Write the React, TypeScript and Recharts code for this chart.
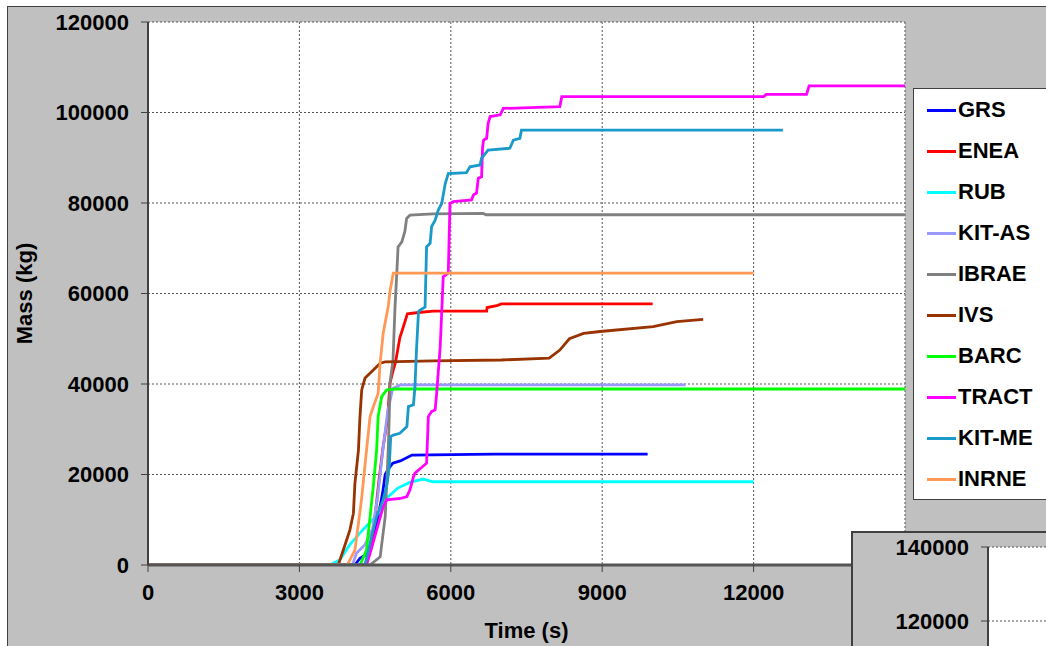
import React from 'react';
import { LineChart, Line, XAxis, YAxis, CartesianGrid } from 'recharts';

// Axis ticks
const timeTicks = [0, 3000, 6000, 9000, 12000, 15000];
const massTicks = [0, 20000, 40000, 60000, 80000, 100000, 120000];
const insetMassTicks = [120000, 140000];

// Series names and colours (legend order)
const seriesNames = ['GRS', 'ENEA', 'RUB', 'KIT-AS', 'IBRAE', 'IVS', 'BARC', 'TRACT', 'KIT-ME', 'INRNE'];
const seriesColors = ['#0000FF', '#FF0000', '#00FFFF', '#9999FF', '#808080', '#993300', '#00FF00', '#FF00FF', '#1A9AC9', '#FF9955'];

// Time (s) / mass (kg) samples per code
const grsTime = [0, 4100, 4200, 4350, 4450, 4550, 4650, 4700, 4750, 4850, 5000, 5230, 6850, 9900];
const grsMass = [0, 0, 1500, 2500, 5000, 10000, 16000, 20000, 21000, 22500, 23000, 24300, 24500, 24500];

const eneaTime = [0, 4300, 4400, 4500, 4570, 4650, 4750, 4795, 4860, 4900, 4930, 4990, 5050, 5140, 5360, 5650, 6710, 6720, 6910, 7000, 10000];
const eneaMass = [0, 0, 3300, 10600, 18100, 25400, 32700, 40200, 43100, 44600, 46400, 50200, 52300, 55500, 55800, 56100, 56100, 56900, 57300, 57700, 57700];

const rubTime = [0, 3600, 3800, 4000, 4250, 4450, 4650, 4750, 4950, 5200, 5450, 5650, 12000];
const rubMass = [0, 0, 1100, 4500, 7700, 10000, 12500, 15000, 17000, 18300, 19000, 18400, 18400];

const kitAsTime = [0, 4050, 4130, 4300, 4450, 4550, 4650, 4750, 4850, 5000, 10650];
const kitAsMass = [0, 0, 2600, 4500, 8000, 15000, 25000, 34000, 39000, 39800, 39800];

const ibraeTime = [0, 4400, 4600, 4700, 4730, 4760, 4780, 4795, 4855, 4895, 4930, 4955, 5030, 5090, 5125, 5190, 5650, 6640, 6700, 15000];
const ibraeMass = [0, 0, 1800, 10700, 18000, 25400, 32800, 40200, 45300, 57100, 64500, 70300, 71400, 73700, 76600, 77300, 77600, 77700, 77400, 77400];

const ivsTime = [0, 3770, 3870, 4000, 4070, 4100, 4170, 4200, 4235, 4300, 4430, 4600, 4700, 5650, 7000, 7950, 8160, 8350, 8630, 8960, 10010, 10480, 11000];
const ivsMass = [0, 0, 3300, 7700, 11400, 18000, 25400, 32800, 38700, 41300, 42700, 44600, 44900, 45100, 45300, 45700, 47500, 50000, 51200, 51600, 52700, 53800, 54300];

const barcTime = [0, 4200, 4330, 4400, 4470, 4530, 4560, 4630, 4730, 4930, 15000];
const barcMass = [0, 0, 3300, 10700, 18000, 25400, 32800, 37200, 38700, 38900, 38900];

const tractTime = [0, 4330, 4400, 4530, 4660, 4730, 5000, 5130, 5190, 5260, 5290, 5520, 5555, 5620, 5690, 5720, 5790, 5850, 5950, 5984, 6050, 6410, 6450, 6510, 6545, 6610, 6630, 6650, 6710, 6740, 6780, 6980, 7040, 8160, 8200, 12200, 12250, 13050, 13100, 15000];
const tractMass = [0, 0, 2600, 7700, 12900, 14400, 14700, 15100, 16600, 19500, 20300, 22500, 32800, 33900, 34300, 38000, 48200, 63700, 64500, 79900, 80300, 80700, 81800, 82200, 85500, 85800, 92400, 93900, 94300, 97600, 99100, 99500, 100900, 101300, 103500, 103500, 104000, 104000, 105900, 105900];

const kitMeTime = [0, 4300, 4430, 4530, 4660, 4740, 4780, 4810, 4860, 4990, 5130, 5160, 5260, 5290, 5320, 5360, 5390, 5490, 5520, 5590, 5620, 5690, 5750, 5820, 5890, 5950, 6310, 6380, 6580, 6610, 6740, 7170, 7240, 7370, 7400, 12580];
const kitMeMass = [0, 0, 6300, 10700, 14400, 18000, 21700, 28400, 28700, 29100, 30600, 35000, 35400, 39400, 47500, 56000, 56300, 57000, 70300, 71100, 74800, 76200, 78400, 79900, 84300, 86500, 86700, 88000, 88400, 89900, 91700, 92100, 93900, 94300, 96100, 96100];

const inrneTime = [0, 3950, 4100, 4170, 4230, 4330, 4400, 4465, 4560, 4600, 4660, 4760, 4800, 4860, 12000];
const inrneMass = [0, 0, 3300, 9200, 14400, 25400, 32800, 35000, 37900, 44600, 51200, 57100, 60800, 64500, 64500];

const seriesTimes = [grsTime, eneaTime, rubTime, kitAsTime, ibraeTime, ivsTime, barcTime, tractTime, kitMeTime, inrneTime];
const seriesMasses = [grsMass, eneaMass, rubMass, kitAsMass, ibraeMass, ivsMass, barcMass, tractMass, kitMeMass, inrneMass];

const series = seriesNames.map((name, i) => ({
  name,
  color: seriesColors[i],
  data: seriesTimes[i].map((t, k) => ({ t, m: seriesMasses[i][k] })),
}));

const FONT = '"Liberation Sans", Arial, Helvetica, sans-serif';
const tickStyle = { fontFamily: FONT, fontSize: 22, fontWeight: 700, fill: '#000' };
const frame = '#404040';

const MassTitle = (props: any) => {
  const vb = props.viewBox || { x: 0, y: 0, width: 0, height: 0 };
  const x = vb.x + 32;
  const y = vb.y + vb.height / 2;
  return (
    <text x={x} y={y} transform={`rotate(-90, ${x}, ${y})`} textAnchor="middle"
      style={{ fontFamily: FONT, fontSize: 22, fontWeight: 700 }} fill="#000">
      Mass (kg)
    </text>
  );
};

const TimeTitle = (props: any) => {
  const vb = props.viewBox || { x: 0, y: 0, width: 0, height: 0 };
  const x = vb.x + vb.width / 2;
  const y = vb.y + 73;
  return (
    <text x={x} y={y} textAnchor="middle"
      style={{ fontFamily: FONT, fontSize: 22, fontWeight: 700 }} fill="#000">
      Time (s)
    </text>
  );
};

const Legend = () => (
  <div
    style={{
      position: 'absolute', left: 913, top: 88, width: 150, height: 412,
      boxSizing: 'border-box', background: '#fff', border: `1.5px solid ${frame}`,
      fontFamily: FONT, fontSize: 22, fontWeight: 700, color: '#000',
    }}
  >
    {series.map((s, i) => (
      <div key={s.name}
        style={{ position: 'absolute', left: 13, top: 21 - 14 + i * 41, height: 28, display: 'flex', alignItems: 'center' }}>
        <span style={{ display: 'inline-block', width: 29, height: 3, background: s.color, marginRight: 2 }} />
        <span style={{ lineHeight: '28px' }}>{s.name}</span>
      </div>
    ))}
  </div>
);

export default function App() {
  return (
    <div style={{ position: 'absolute', left: 0, top: 0, width: 1046, height: 646, background: '#fff', overflow: 'hidden' }}>
      <div style={{ position: 'absolute', left: 7, top: 6, right: 0, bottom: 0, background: '#C0C0C0', borderTop: `1.5px solid ${frame}`, borderLeft: `1.5px solid ${frame}` }} />
      <div style={{ position: 'absolute', left: 0, top: 0 }}>
        <LineChart width={1046} height={646} margin={{ top: 22, right: 141, bottom: 0, left: 0 }}>
          <CartesianGrid stroke="#555" strokeDasharray="2 2" fill="#fff" fillOpacity={1} />
          <XAxis
            dataKey="t" type="number" domain={[0, 15000]} ticks={timeTicks} allowDataOverflow
            height={81} tickSize={7} tickMargin={12} interval={0}
            tick={tickStyle} tickLine={{ stroke: frame }}
            axisLine={{ stroke: '#555', strokeWidth: 3 }}
            label={<TimeTitle />}
          />
          <XAxis xAxisId="top" orientation="top" type="number" domain={[0, 1]} height={0}
            tick={false} tickLine={false} axisLine={{ stroke: frame, strokeWidth: 1.5 }} />
          <YAxis
            dataKey="m" type="number" domain={[0, 120000]} ticks={massTicks} allowDataOverflow
            width={148} tickSize={7} tickMargin={12} interval={0}
            tick={tickStyle} tickLine={{ stroke: frame }}
            axisLine={{ stroke: frame, strokeWidth: 2 }}
            label={<MassTitle />}
          />
          <YAxis yAxisId="right" orientation="right" type="number" domain={[0, 1]} width={0}
            tick={false} tickLine={false} axisLine={{ stroke: frame, strokeWidth: 2 }} />
          {series.map((s) => (
            <Line key={s.name} name={s.name} data={s.data} dataKey="m" type="linear"
              stroke={s.color} strokeWidth={2.8} dot={false} activeDot={false}
              isAnimationActive={false} />
          ))}
        </LineChart>
      </div>
      <Legend />
      {/* Second copy of the chart, scaled to 140000 kg, peeking in at the bottom right */}
      <div style={{ position: 'absolute', left: 851, top: 531, width: 195, height: 115, overflow: 'hidden', boxSizing: 'border-box', background: '#C0C0C0', borderTop: `2px solid ${frame}`, borderLeft: `2px solid ${frame}` }}>
        <LineChart width={400} height={552} margin={{ top: 14, right: 0, bottom: 20, left: 0 }}>
          <CartesianGrid stroke="#555" strokeDasharray="2 2" fill="#fff" fillOpacity={1} vertical={false} />
          <XAxis dataKey="t" type="number" domain={[0, 15000]} allowDataOverflow hide />
          <XAxis xAxisId="top" orientation="top" type="number" domain={[0, 1]} height={0}
            tick={false} tickLine={false} axisLine={{ stroke: frame, strokeWidth: 1.5 }} />
          <YAxis dataKey="m" type="number" domain={[0, 140000]} ticks={insetMassTicks} interval={0} allowDataOverflow
            width={135} tickSize={7} tickMargin={12}
            tick={tickStyle} tickLine={{ stroke: frame }}
            axisLine={{ stroke: frame, strokeWidth: 2 }} />
          {series.map((s) => (
            <Line key={s.name} name={s.name} data={s.data} dataKey="m" type="linear"
              stroke={s.color} strokeWidth={2.8} dot={false} activeDot={false}
              isAnimationActive={false} />
          ))}
        </LineChart>
      </div>
    </div>
  );
}
